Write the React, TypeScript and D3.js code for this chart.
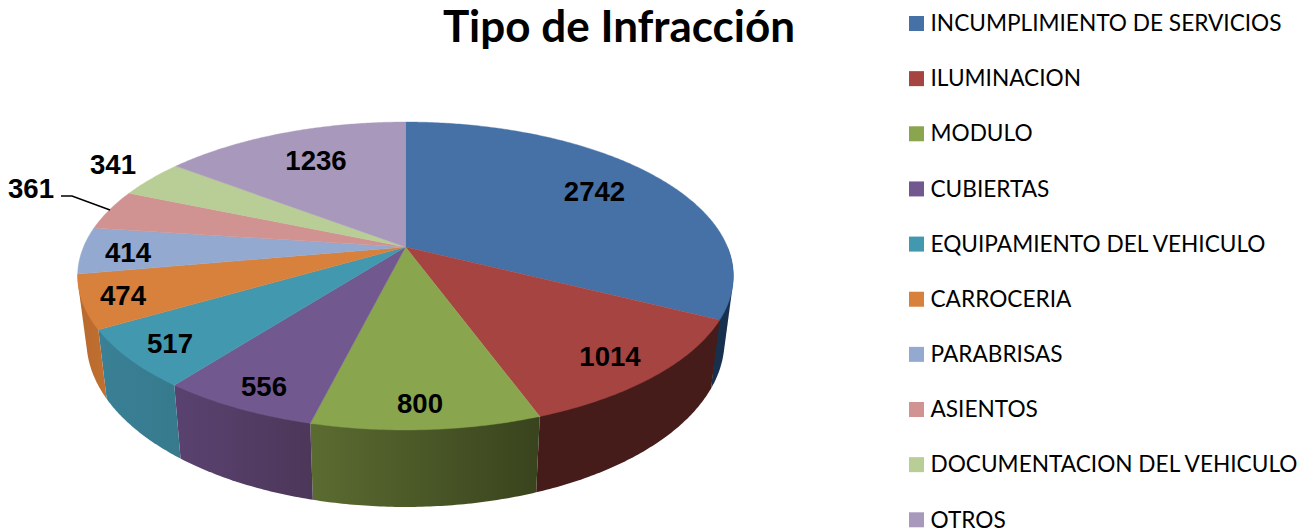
import React from "react";
import * as d3 from "d3";

const categories = [
  "INCUMPLIMIENTO DE SERVICIOS",
  "ILUMINACION",
  "MODULO",
  "CUBIERTAS",
  "EQUIPAMIENTO DEL VEHICULO",
  "CARROCERIA",
  "PARABRISAS",
  "ASIENTOS",
  "DOCUMENTACION DEL VEHICULO",
  "OTROS",
];
const values = [2742, 1014, 800, 556, 517, 474, 414, 361, 341, 1236];
const topColors = ["#4671A6", "#A64442", "#89A54E", "#71588F", "#4198AF", "#D8813C", "#93A9CF", "#D19392", "#B9CD96", "#A899BC"];
// wall shading, left colour then right colour
const wallColors = [
  ["#17304e", "#17304e"],
  ["#451c1a", "#451c1a"],
  ["#5b6c31", "#39431d"],
  ["#5a4270", "#4c3759"],
  ["#3a8096", "#367a8c"],
  ["#b8692e", "#c0702f"],
];
const labelAt = [
  [594.5, 191], [610, 356], [420, 403], [264, 386], [170, 343],
  [123, 295], [128, 252], [31, 188], [113, 164], [316, 160],
];

const width = 1310;
const height = 530;

// tilted disc: plan coordinates pushed through a perspective divide
const cx = 405.5;
const apexY = 247;
const persp = 0.1883;
const spanX = 322;
const spanY = 102;

const project = (theta: number): [number, number] => {
  const u = Math.sin(theta);
  const v = -Math.cos(theta);
  const w = 1 - persp * v;
  return [cx + (spanX * u) / w, (apexY + spanY * v) / w];
};
// bottom rim is the top rim slightly narrower and shifted down
const projectLow = (theta: number): [number, number] => {
  const [x, y] = project(theta);
  return [cx + (x - cx) * 0.973, y * 1.08 + 42.6];
};

const arcAngles = (a0: number, a1: number) => {
  const n = Math.max(2, Math.ceil((a1 - a0) / 0.01));
  return d3.range(n + 1).map((i) => a0 + ((a1 - a0) * i) / n);
};

const line = d3.line().curve(d3.curveLinearClosed);

const App: React.FC = () => {
  const slices = d3.pie<number>().sort(null)(values);
  const legendY = d3.scaleLinear().domain([0, 9]).range([23.5, 519.8]);
  const wallStart = Math.PI / 2;
  const wallEnd = (Math.PI * 3) / 2;

  const walls = slices.slice(0, wallColors.length).map((s, i) => {
    const a0 = Math.max(s.startAngle, wallStart);
    const a1 = Math.min(s.endAngle, wallEnd);
    const angles = arcAngles(a0, a1);
    // hull so the outer edge follows the tangent between the two rims
    const pts = d3.polygonHull([...angles.map(project), ...angles.map(projectLow)])!;
    return { i, d: line(pts)!, x0: d3.min(pts, (p) => p[0])!, x1: d3.max(pts, (p) => p[0])! };
  });

  return (
    <svg
      width={width}
      height={height}
      viewBox={`0 0 ${width} ${height}`}
      style={{ position: "absolute", left: 0, top: 0, background: "#fff" }}
    >
      <defs>
        {walls.map((w) => (
          <linearGradient key={w.i} id={`wall${w.i}`} gradientUnits="userSpaceOnUse" x1={w.x0} x2={w.x1} y1={0} y2={0}>
            <stop offset="0" stopColor={wallColors[w.i][0]} />
            <stop offset="1" stopColor={wallColors[w.i][1]} />
          </linearGradient>
        ))}
      </defs>

      {walls.map((w) => (
        <path key={w.i} d={w.d} fill={`url(#wall${w.i})`} />
      ))}

      {slices.map((s, i) => {
        const pts: [number, number][] = [[cx, apexY], ...arcAngles(s.startAngle, s.endAngle).map(project)];
        return <path key={i} d={line(pts)!} fill={topColors[i]} stroke={topColors[i]} strokeWidth={0.4} />;
      })}

      <polyline points="61,196 72,196 110,210" fill="none" stroke="#000" strokeWidth={1.5} />

      {values.map((v, i) => (
        <text
          key={i}
          x={labelAt[i][0]}
          y={labelAt[i][1]}
          textAnchor="middle"
          dominantBaseline="central"
          fontFamily="'Liberation Sans', Arial, sans-serif"
          fontWeight="bold"
          fontSize={27.6}
          fill="#000"
        >
          {v}
        </text>
      ))}

      <text x={619} y={24.5} textAnchor="middle" dominantBaseline="central" fontFamily="Lato, sans-serif" fontWeight="bold" fontSize={44} fill="#000">
        Tipo de Infracción
      </text>

      {categories.map((c, i) => (
        <g key={c}>
          <rect x={909} y={legendY(i) - 7.5} width={15} height={15} fill={topColors[i]} />
          <text x={930.5} y={legendY(i) - 0.8} dominantBaseline="central" fontFamily="Lato, sans-serif" fontSize={22.65} fill="#000">
            {c}
          </text>
        </g>
      ))}
    </svg>
  );
};

export default App;
